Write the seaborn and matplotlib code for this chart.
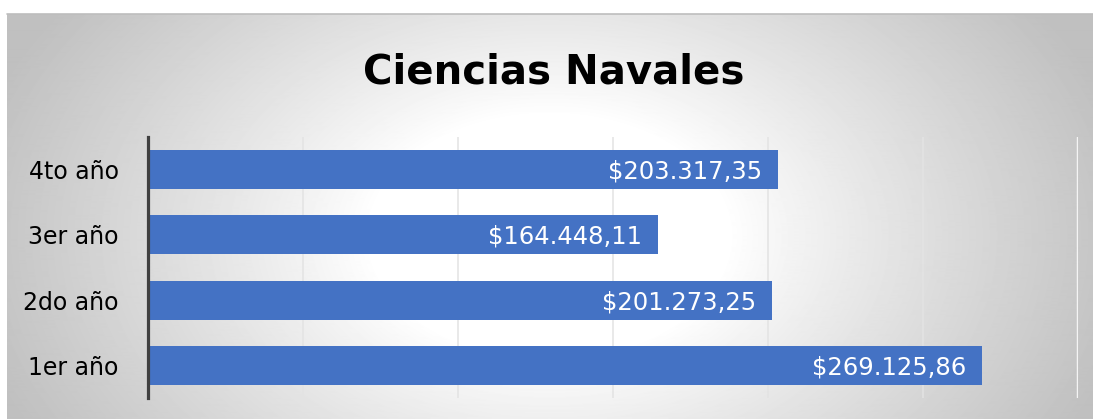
import numpy as np
import pandas as pd
import seaborn as sns
import matplotlib.pyplot as plt

# data (top to bottom as shown in the chart)
years = ['4to año', '3er año', '2do año', '1er año']
amounts = [203317.35, 164448.11, 201273.25, 269125.86]
title = 'Ciencias Navales'


def money(v):
    s = f"{v:,.2f}"
    s = s.replace(',', '#').replace('.', ',').replace('#', '.')
    return '$' + s


def radial_background(fig):
    bg = fig.add_axes([7 / 1093, 0, 1 - 7 / 1093, 405 / 419], zorder=-10)
    w, h = 1086, 405
    xx, yy = np.meshgrid(np.linspace(0, 1, w), np.linspace(0, 1, h))
    d = np.sqrt(((xx - 0.5) / 0.55) ** 2 + ((yy - 0.55) / 1.0) ** 2)
    g = 1 - (1 - 0.75) * np.clip((d - 0.3) / 0.7, 0, 1) ** 0.9
    bg.imshow(g, cmap='gray', vmin=0, vmax=1, aspect='auto',
              interpolation='bilinear')
    bg.axis('off')
    # thin top frame line
    fig.add_artist(plt.Line2D([7 / 1093, 1], [405 / 419, 405 / 419],
                              color='#BDBDBD', lw=1.2))


def main():
    sns.set_style('white')
    plt.rcParams['font.family'] = ['DejaVu Sans']

    df = pd.DataFrame({'year': years, 'amount': amounts})

    fig = plt.figure(figsize=(10.93, 4.19), dpi=100)
    fig.patch.set_facecolor('white')
    radial_background(fig)

    ax = fig.add_axes([148 / 1093, 21 / 419, 930 / 1093, 261 / 419])
    ax.set_facecolor('none')
    sns.barplot(data=df, x='amount', y='year', order=years, orient='h',
                color='#4472C4', width=0.6, saturation=1, linewidth=0,
                ax=ax, zorder=3)

    ax.set_xlim(0, 300000)
    ax.set_ylim(3.5, -0.5)
    for gx in range(50000, 300000, 50000):
        ax.axvline(gx, color='#E3E3E3', lw=1.1, zorder=1)
    ax.axvline(300000, color='#F4F4F4', lw=2.5, zorder=1)

    for i, v in enumerate(amounts):
        ax.annotate(money(v), xy=(v, i), xytext=(-11.5, -1.5),
                    textcoords='offset points', ha='right', va='center',
                    color='white', fontsize=17.5, zorder=4)

    ax.set_xticks([])
    ax.set_xlabel('')
    ax.set_ylabel('')
    ax.tick_params(axis='y', length=0, pad=21, labelsize=17,
                   labelcolor='black')
    for side in ['top', 'right', 'bottom']:
        ax.spines[side].set_visible(False)
    ax.spines['left'].set_color('#404040')
    ax.spines['left'].set_linewidth(2.3)
    ax.spines['left'].set_zorder(5)

    fig.text(554 / 1093, 1 - 72 / 419, title, ha='center', va='center',
             fontsize=29, fontweight='bold', color='black')

    fig.savefig('out.png', dpi=100)


if __name__ == "__main__":
    main()
